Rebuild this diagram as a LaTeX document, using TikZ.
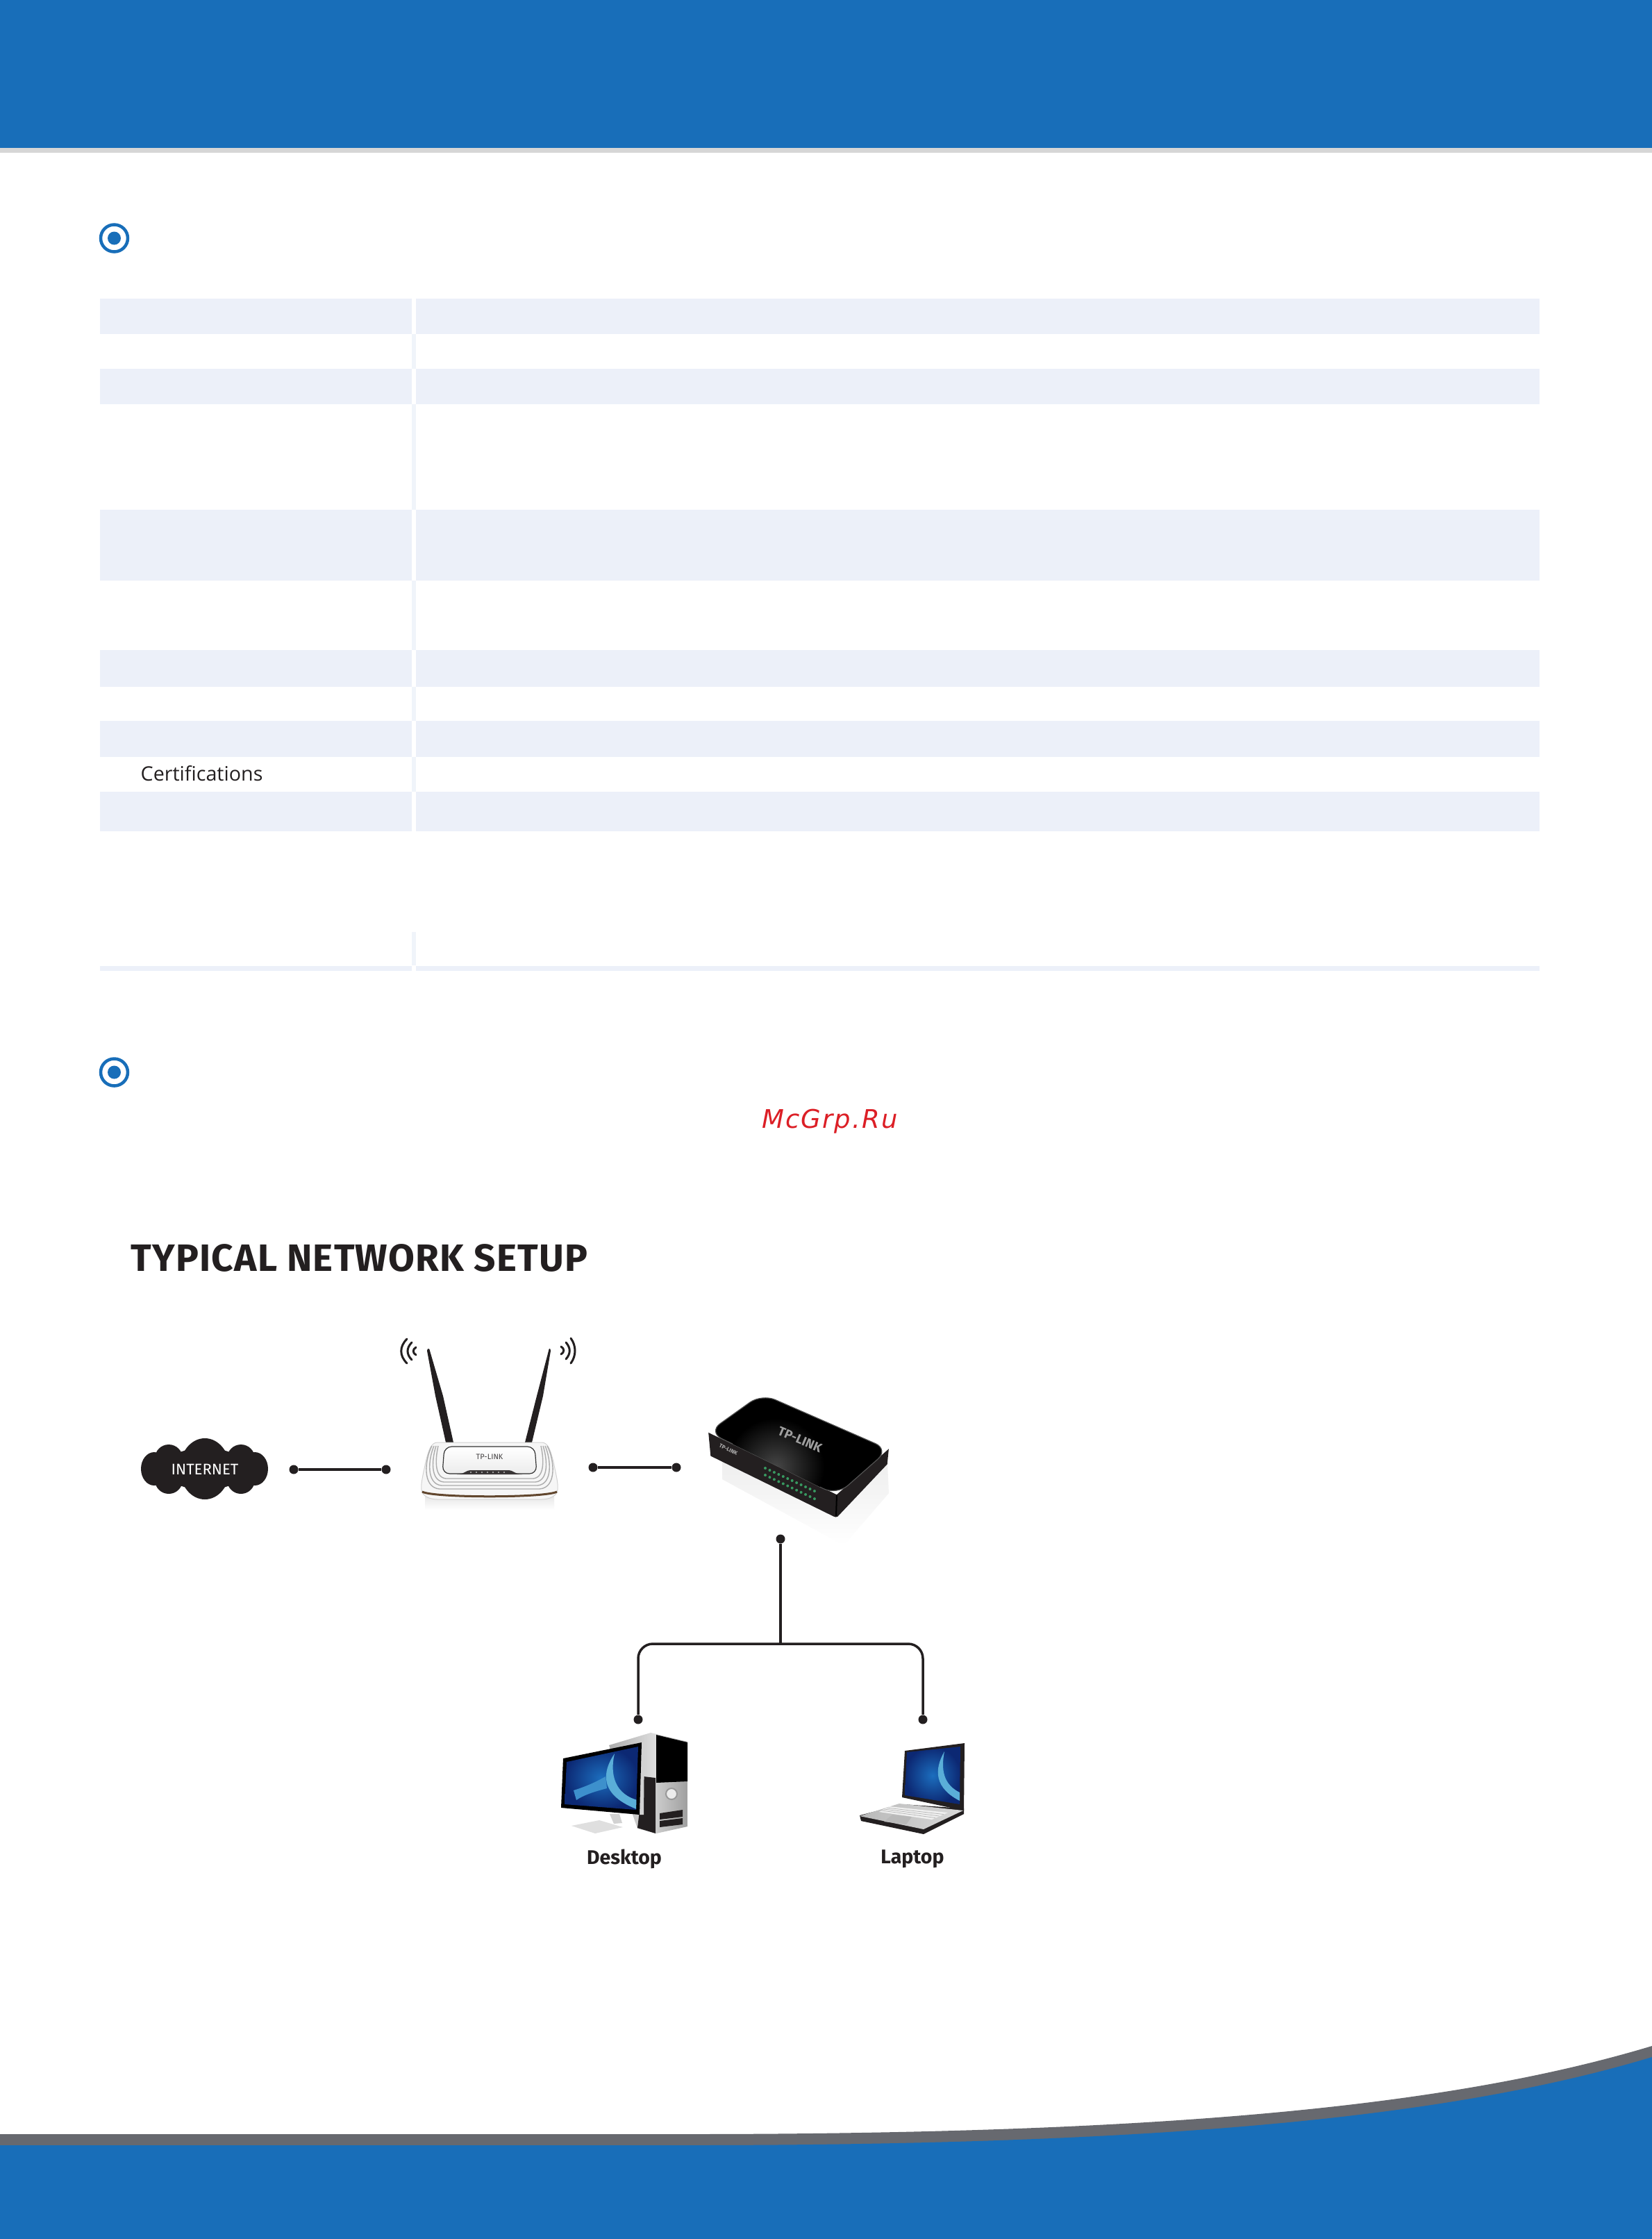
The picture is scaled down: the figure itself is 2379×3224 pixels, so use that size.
\documentclass[tikz,border=0pt]{standalone}
\usepackage{fontspec}
\setmainfont{Fira Sans}
\newfontfamily\titlefont[LetterSpace=2.2]{Fira Sans}
\newfontfamily\certfont{Open Sans}
\newfontfamily\markfont[LetterSpace=6]{DejaVu Sans}
\usetikzlibrary{arrows,positioning}
\definecolor{bandblue}{RGB}{24, 110, 185}
\definecolor{waveslate}{RGB}{103, 105, 111}
\definecolor{bandgray}{RGB}{214, 214, 214}
\definecolor{rowtint}{RGB}{236, 240, 249}
\definecolor{septint}{RGB}{240, 244, 250}
\definecolor{inkblack}{RGB}{35, 31, 32}
\definecolor{stamped}{RGB}{220, 31, 38}
\definecolor{ledgreen}{RGB}{70, 190, 120}
\definecolor{screendeep}{RGB}{12, 40, 115}
\definecolor{screenlight}{RGB}{28, 110, 190}
\definecolor{swoosh}{RGB}{110, 195, 225}
\tikzset{
    rowband/.style={fill=rowtint},
    sepband/.style={fill=septint},
    bullet/.style={draw=bandblue, line width=0.045cm, fill=white},
    dotnode/.style={circle, fill=inkblack, inner sep=0pt, minimum size=0.13cm},
    link/.style={draw=inkblack, line width=0.035cm},
    wave/.style={draw=inkblack, line width=0.03cm, line cap=round},
    contour/.style={draw=gray!65, line width=0.014cm},
    titletext/.style={font=\titlefont\bfseries\fontsize{15.6}{18}\selectfont, text=inkblack, inner sep=0pt},
    devicetext/.style={font=\bfseries\fontsize{8.1}{10}\selectfont, text=inkblack, inner sep=0pt}
}
\begin{document}
\begin{tikzpicture}[x=0.01cm, y=-0.01cm]
    \useasboundingbox (0, 0) rectangle (2379, 3224);
    \fill[white]    (   0,    0) rectangle (2379, 3224);
    \fill[bandblue] (   0,    0) rectangle (2379,  213);
    \fill[bandgray] (   0,  213) rectangle (2379,  220);

    \foreach \ytop/\ybot in {430/481, 531/582, 734/836, 936/989, 1038/1090, 1140/1197, 1391/1398}{
        \fill[rowband] (144, \ytop) rectangle (593, \ybot);
        \fill[rowband] (599, \ytop) rectangle (2217, \ybot);
    }
    \foreach \ytop/\ybot in {481/531, 582/734, 836/936, 989/1038, 1090/1140, 1342/1390}
        \fill[sepband] (593, \ytop) rectangle (599, \ybot);

    \foreach \ycen in {343, 1544}{
        \filldraw[bullet] (164.5, \ycen) circle (19.5);
        \fill[bandblue]   (164.5, \ycen) circle (9.5);
    }

    \node[anchor=west, inner sep=0pt, text=inkblack, font=\certfont\fontsize{8.15}{10}\selectfont] (certs) at (202, 1114) {Certifications};
    \node[inner sep=0pt, text=stamped, font=\markfont\itshape\fontsize{10.5}{13}\selectfont] (mark) at (1195, 1615) {McGrp.Ru};
    \node[titletext, anchor=west] (title) at (188, 1811) {TYPICAL NETWORK SETUP};

    \fill[inkblack] (295, 2115) ellipse [x radius=60, y radius=30];
    \foreach \cx/\cy/\rx/\ry in {295/2115/36/44, 243/2100/20/20, 347/2100/20/20, 243/2131/20/20, 347/2131/20/20, 222/2115/19/24, 367/2115/19/24}
        \fill[inkblack] (\cx, \cy) ellipse [x radius=\rx, y radius=\ry];
    \node[text=white, inner sep=0pt, font=\fontsize{6.3}{8}\selectfont] (internet) at (295, 2115.5) {INTERNET};

    \draw[wave] (599, 1940) .. controls (594, 1943) and (594, 1948) .. (599, 1951);
    \draw[wave] (593, 1933) .. controls (585, 1941) and (585, 1950) .. (593, 1958);
    \draw[wave] (586, 1928) .. controls (575, 1939) and (575, 1952) .. (586, 1963);
    \draw[wave] (808, 1939) .. controls (813, 1942) and (813, 1947) .. (808, 1950);
    \draw[wave] (815, 1933) .. controls (822, 1941) and (822, 1949) .. (815, 1957);
    \draw[wave] (822, 1927) .. controls (830, 1938) and (830, 1952) .. (822, 1963);

    \fill[inkblack] (615, 1945) .. controls (615, 1941) and (619, 1941) .. (619, 1945) -- (638, 2010) -- (653, 2077) -- (642, 2077) -- (627, 2010) -- cycle;
    \fill[inkblack] (790, 1945) .. controls (790, 1941) and (793, 1941) .. (793, 1945) -- (782, 2010) -- (766, 2077) -- (756, 2077) -- (773, 2010) -- cycle;

    \shade[top color=gray!18, bottom color=white] (612, 2155) rectangle (798, 2174);
    \filldraw[draw=gray!35, line width=0.01cm, fill=gray!7] (630, 2077) -- (780, 2077) .. controls (790, 2077) and (793, 2090) .. (797, 2105) .. controls (801, 2125) and (804, 2135) .. (803, 2145) .. controls (802, 2155) and (790, 2159) .. (780, 2159) -- (630, 2159) .. controls (620, 2159) and (608, 2155) .. (607, 2145) .. controls (606, 2135) and (609, 2125) .. (613, 2105) .. controls (617, 2090) and (620, 2077) .. (630, 2077) -- cycle;
    \foreach \k in {1, 2, 3, 4}
        \draw[contour] (634 - 3*\k, 2082) .. controls (632 - 5*\k, 2100) and (631 - 6*\k, 2122 + 5*\k) .. (645 - 3*\k, 2124 + 5*\k) -- (765 + 3*\k, 2124 + 5*\k) .. controls (779 + 6*\k, 2122 + 5*\k) and (778 + 5*\k, 2100) .. (776 + 3*\k, 2082);
    \draw[draw=brown!40!inkblack, line width=0.03cm] (608, 2148) .. controls (625, 2157) and (785, 2157) .. (802, 2148);
    \filldraw[draw=gray!40!black, line width=0.012cm, top color=white, bottom color=gray!15, rounded corners=3pt] (640, 2083) -- (770, 2083) -- (773, 2122) -- (637, 2122) -- cycle;
    \fill[inkblack!90] (658, 2123) .. controls (672, 2122) and (668, 2117) .. (680, 2117) -- (730, 2117) .. controls (742, 2117) and (738, 2122) .. (752, 2123) -- cycle;
    \foreach \lx in {678, 686, ..., 726}
        \fill[gray!50] (\lx, 2120) circle (1.1);
    \node[inner sep=0pt, text=inkblack!85, font=\fontsize{3.1}{4}\selectfont] (routerlogo) at (705, 2098) {TP-LINK};

    \shade[top color=gray!14, bottom color=white] (1040, 2100) -- (1204, 2183) -- (1278, 2107) -- (1280, 2150) -- (1215, 2225) -- (1040, 2130) -- cycle;
    \filldraw[fill=inkblack, draw=inkblack] (1021, 2064) -- (1205, 2153) -- (1279, 2088) -- (1277, 2108) -- (1206, 2183) .. controls (1204, 2184) and (1203, 2184) .. (1201, 2183) -- (1024, 2096) -- cycle;
    \filldraw[fill=black, draw=gray!65!black, line width=0.012cm, rounded corners=6pt] (1097, 2007) -- (1280, 2087) -- (1205, 2153) -- (1020, 2062) -- cycle;
    \begin{scope}
        \clip (1097, 2007) -- (1280, 2087) -- (1205, 2153) -- (1020, 2062) -- cycle;
        \shade[inner color=gray!55!black, outer color=black] (1117, 2112) circle (70);
    \end{scope}
    \draw[black, line width=0.02cm] (1205, 2153) -- (1204, 2183);
    \foreach \col in {0, ..., 11}{
        \fill[ledgreen!80!black] (1102 + 6.45*\col, 2114 + 3*\col) circle (2);
        \fill[ledgreen!80!black] (1102 + 6.45*\col, 2124 + 3.1*\col) circle (2);
    }
    \node[rotate=-23, inner sep=0pt, text=gray!75, font=\bfseries\fontsize{5.2}{6}\selectfont] (switchlogo) at (1152, 2073) {TP-LINK};
    \node[rotate=-25, inner sep=0pt, text=gray!60, font=\bfseries\fontsize{2.2}{3}\selectfont] (frontlogo) at (1049, 2087) {TP-LINK};

    \shade[left color=gray!65, right color=gray!25] (877, 2513) -- (937, 2495) -- (946, 2497) -- (946, 2640) -- (918, 2633) -- cycle;
    \fill[inkblack] (927, 2558) -- (944, 2560) -- (944, 2640) -- (918, 2632) -- cycle;
    \shade[left color=gray!40, right color=gray!75] (945, 2497) -- (990, 2508) -- (990, 2630) -- (945, 2640) -- cycle;
    \fill[black] (945, 2498) -- (990, 2509) -- (990, 2565) -- (945, 2567) -- cycle;
    \filldraw[fill=gray!15, draw=gray!80, line width=0.02cm] (967, 2583) circle (8);
    \fill[inkblack] (950, 2611) -- (983, 2606) -- (983, 2616) -- (950, 2620) -- cycle;
    \fill[inkblack] (950, 2622) -- (983, 2618) -- (983, 2627) -- (950, 2631) -- cycle;
    \fill[gray!35] (878, 2612) -- (892, 2612) -- (896, 2625) -- (884, 2626) -- cycle;
    \fill[gray!25] (823, 2629) -- (863, 2621) -- (897, 2631) -- (857, 2640) -- cycle;
    \fill[gray!35] (923, 2509) -- (928, 2509) -- (927, 2613) -- (921, 2613) -- cycle;
    \fill[black] (811, 2532) -- (924, 2509) -- (921, 2613) -- (808, 2603) -- cycle;
    \shade[inner color=screenlight, outer color=screendeep] (816, 2537) -- (919, 2515) -- (916, 2606) -- (813, 2598) -- cycle;
    \begin{scope}
        \clip (816, 2537) -- (919, 2515) -- (916, 2606) -- (813, 2598) -- cycle;
        \fill[swoosh!40!screenlight] (826, 2578) .. controls (845, 2572) and (860, 2565) .. (872, 2558) -- (874, 2575) .. controls (855, 2580) and (840, 2585) .. (830, 2592) -- cycle;
        \fill[swoosh!75!screenlight] (885, 2525) .. controls (868, 2550) and (860, 2585) .. (922, 2607) -- (922, 2593) .. controls (885, 2585) and (878, 2555) .. (885, 2525) -- cycle;
    \end{scope}

    \fill[inkblack] (1303, 2521) -- (1389, 2510) -- (1388, 2607) -- (1299, 2588) -- cycle;
    \shade[inner color=screenlight, outer color=screendeep] (1306, 2523) -- (1383, 2515) -- (1382, 2598) -- (1303, 2585) -- cycle;
    \begin{scope}
        \clip (1306, 2523) -- (1383, 2515) -- (1382, 2598) -- (1303, 2585) -- cycle;
        \fill[swoosh!75!screenlight] (1360, 2522) .. controls (1345, 2548) and (1345, 2575) .. (1384, 2594) -- (1384, 2582) .. controls (1358, 2570) and (1355, 2548) .. (1360, 2522) -- cycle;
    \end{scope}
    \fill[inkblack] (1238, 2614) -- (1240, 2622) -- (1330, 2641) -- (1388, 2612) -- (1388, 2604) -- (1300, 2598) -- cycle;
    \shade[left color=gray!55, right color=gray!30] (1295, 2597) -- (1387, 2607) -- (1330, 2634) -- (1238, 2615) -- cycle;
    \fill[gray!12] (1280, 2601) -- (1365, 2610) -- (1342, 2620) -- (1266, 2609) -- cycle;
    \foreach \row in {1, 2, 3}
        \draw[gray!55, line width=0.008cm] (1280 - 3.5*\row, 2601 + 2*\row) -- (1365 - 6*\row, 2610 + 2.5*\row);
    \fill[gray!55] (1285, 2613) -- (1313, 2616) -- (1305, 2627) -- (1273, 2623) -- cycle;
    \foreach \bx in {1274, 1280, 1286}
        \fill[inkblack] (\bx, 2627) circle (1.5);

    \node[dotnode] (dotA) at ( 423, 2116) {};
    \node[dotnode] (dotB) at ( 556, 2116) {};
    \node[dotnode] (dotC) at ( 854, 2113) {};
    \node[dotnode] (dotD) at ( 974, 2113) {};
    \node[dotnode] (dotE) at (1124, 2216) {};
    \node[dotnode] (dotF) at ( 919, 2476) {};
    \node[dotnode] (dotG) at (1329, 2476) {};
    \coordinate (hub) at (1124, 2367);
    \draw[link] (dotA) -- (dotB);
    \draw[link] (dotC) -- (dotD);
    \draw[link] (dotE) -- (hub);
    \draw[link, rounded corners=6pt] (dotF) |- (hub) -| (dotG);

    \node[devicetext] (desktop) at ( 899, 2677) {Desktop};
    \node[devicetext] (laptop)  at (1314, 2677) {Laptop};

    \fill[waveslate] (0, 3073) -- (986, 3073) .. controls (1700, 3073) and (2100, 3030) .. (2379, 2946) -- (2379, 3224) -- (0, 3224) -- cycle;
    \fill[bandblue]  (0, 3089) -- (986, 3089) .. controls (1700, 3089) and (2100, 3046) .. (2379, 2962) -- (2379, 3224) -- (0, 3224) -- cycle;
\end{tikzpicture}
\end{document}
